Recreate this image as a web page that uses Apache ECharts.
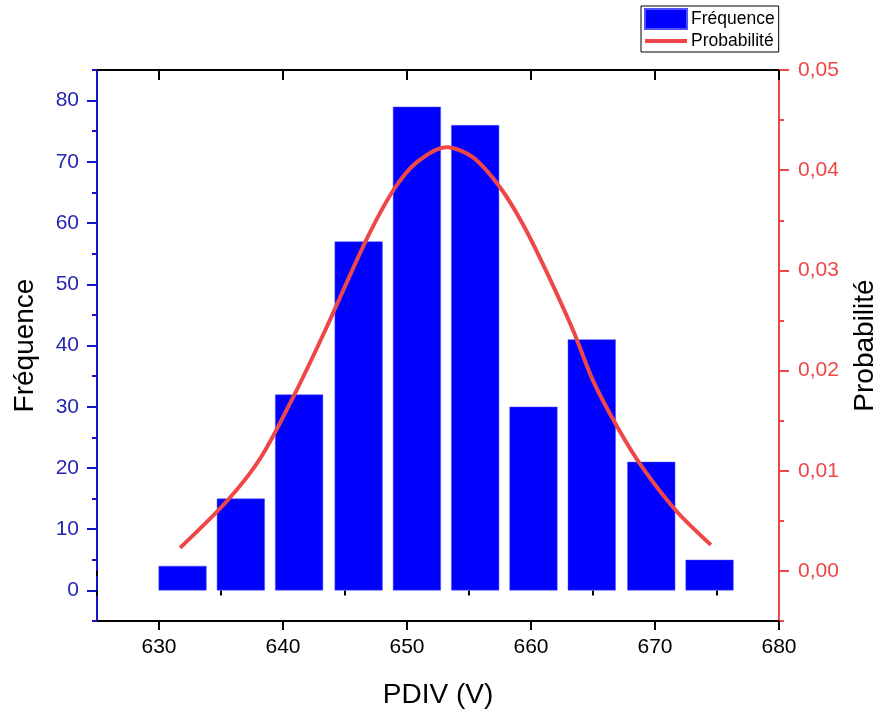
<!DOCTYPE html>
<html>
<head>
<meta charset="utf-8">
<script src="https://cdn.jsdelivr.net/npm/echarts@6/dist/echarts.min.js"></script>
<style>
html,body{margin:0;padding:0;background:#fff;overflow:hidden;}
#chart{width:878px;height:713px;}
</style>
</head>
<body>
<div id="chart"></div>
<script>
// ---- data ----
const binCenters = [631.9, 636.6, 641.3, 646.1, 650.8, 655.5, 660.2, 664.9, 669.7, 674.4];
const frequencies = [4, 15, 32, 57, 79, 76, 30, 41, 21, 5];
const curveX = [631.7, 635.5, 638.2, 640.8, 643.4, 646.7, 648.9, 650.8, 653.2, 655.3, 657.5, 659.3, 661.2, 663.4, 665.0, 667.0, 669.0, 671.7, 674.5];
const curveP = [0.0023, 0.0070, 0.0113, 0.0173, 0.0240, 0.0330, 0.0380, 0.0408, 0.0423, 0.0413, 0.0383, 0.0347, 0.0300, 0.0240, 0.0190, 0.0143, 0.0103, 0.0060, 0.0026];
const xMajorTicks = [630, 640, 650, 660, 670, 680];
const xMinorTicks = [625, 635, 645, 655, 665, 675];
const leftMajorTicks = [0, 10, 20, 30, 40, 50, 60, 70, 80];
const leftMinorTicks = [-5, 5, 15, 25, 35, 45, 55, 65, 75, 85];
const rightMajorTicks = [0, 0.01, 0.02, 0.03, 0.04, 0.05];
const rightMinorTicks = [-0.005, 0.005, 0.015, 0.025, 0.035, 0.045];
const seriesNames = ['Fréquence', 'Probabilité'];
const xName = 'PDIV (V)';

const FONT = 'Liberation Sans, Arial, sans-serif';
const BLUE_AXIS = '#1414c8';
const BLUE_LABEL = '#2626b0';
const RED = '#ef4747';
const X_MIN = 625, X_MAX = 680, L_MIN = -5, L_MAX = 85, R_MIN = -0.005, R_MAX = 0.05;

const chart = echarts.init(document.getElementById('chart'), null, {renderer: 'canvas'});

function tickAxis(extra) {
  return Object.assign({
    type: 'value', splitLine: {show: false},
    axisLine: {show: false}, axisLabel: {show: false}
  }, extra);
}

const option = {
  backgroundColor: '#ffffff',
  animation: false,
  textStyle: {fontFamily: FONT},
  grid: {left: 97, right: 99, top: 70, bottom: 92, containLabel: false, outerBoundsMode: 'none'},
  legend: {
    orient: 'vertical', left: 641, top: 6,
    padding: [2, 4, 2, 3], itemGap: 2,
    itemWidth: 42, itemHeight: 20,
    borderColor: '#000', borderWidth: 1, backgroundColor: '#fff',
    textStyle: {fontFamily: FONT, fontSize: 17.5, color: '#000', padding: [0, 0, 0, -1]},
    data: [
      {name: seriesNames[0], icon: 'rect'},
      {name: seriesNames[1], icon: 'path://M0,0 L42,0 L42,4 L0,4 Z'}
    ]
  },
  xAxis: [
    {
      type: 'value', min: X_MIN, max: X_MAX, position: 'bottom',
      name: xName, nameLocation: 'middle', nameGap: 60,
      nameTextStyle: {fontFamily: FONT, fontSize: 28, color: '#000'},
      axisLine: {show: true, onZero: false, lineStyle: {color: '#000', width: 2}},
      axisTick: {show: true, inside: false, length: 9, customValues: xMajorTicks, lineStyle: {color: '#000', width: 2}},
      axisLabel: {show: true, margin: 16, customValues: xMajorTicks, fontFamily: FONT, fontSize: 21, color: '#000'},
      splitLine: {show: false}
    },
    tickAxis({min: X_MIN, max: X_MAX, position: 'bottom',
      axisTick: {show: true, length: 5, customValues: xMinorTicks, lineStyle: {color: '#000', width: 2}}}),
    tickAxis({min: X_MIN, max: X_MAX, position: 'top',
      axisLine: {show: true, onZero: false, lineStyle: {color: '#000', width: 2}},
      axisTick: {show: true, inside: true, length: 10, customValues: xMajorTicks, lineStyle: {color: '#000', width: 2}}}),
    tickAxis({min: X_MIN, max: X_MAX, position: 'top',
      axisTick: {show: true, inside: true, length: 5, customValues: xMinorTicks, lineStyle: {color: '#000', width: 2}}})
  ],
  yAxis: [
    {
      type: 'value', min: L_MIN, max: L_MAX, position: 'left',
      name: seriesNames[0], nameLocation: 'middle', nameGap: 58, nameRotate: 90,
      nameTextStyle: {fontFamily: FONT, fontSize: 28, color: '#000'},
      axisLine: {show: true, onZero: false, lineStyle: {color: BLUE_AXIS, width: 2}},
      axisTick: {show: true, length: 10, customValues: leftMajorTicks, lineStyle: {color: BLUE_AXIS, width: 2}},
      axisLabel: {show: true, margin: 18, customValues: leftMajorTicks, fontFamily: FONT, fontSize: 21, color: BLUE_LABEL},
      splitLine: {show: false}
    },
    {
      type: 'value', min: R_MIN, max: R_MAX, position: 'right',
      name: seriesNames[1], nameLocation: 'middle', nameGap: 72, nameRotate: 90,
      nameTextStyle: {fontFamily: FONT, fontSize: 28, color: '#000'},
      axisLine: {show: true, onZero: false, lineStyle: {color: RED, width: 2}},
      axisTick: {show: true, length: 10, customValues: rightMajorTicks, lineStyle: {color: RED, width: 2}},
      axisLabel: {show: true, margin: 19, customValues: rightMajorTicks, fontFamily: FONT, fontSize: 21, color: RED,
        formatter: v => v.toFixed(2).replace('.', ',')},
      splitLine: {show: false}
    },
    tickAxis({min: L_MIN, max: L_MAX, position: 'left',
      axisTick: {show: true, length: 5, customValues: leftMinorTicks, lineStyle: {color: BLUE_AXIS, width: 2}}}),
    tickAxis({min: R_MIN, max: R_MAX, position: 'right',
      axisTick: {show: true, length: 5, customValues: rightMinorTicks, lineStyle: {color: RED, width: 2}}})
  ],
  series: [
    {
      name: seriesNames[0], type: 'bar', xAxisIndex: 0, yAxisIndex: 0,
      barWidth: 48, z: 2,
      itemStyle: {color: '#0000ff', borderColor: '#5050ff', borderWidth: 0.5},
      data: binCenters.map((c, i) => [c, frequencies[i]])
    },
    {
      name: seriesNames[1], type: 'line', xAxisIndex: 0, yAxisIndex: 1,
      smooth: 0.3, showSymbol: false, symbol: 'none', z: 3,
      lineStyle: {color: RED, width: 4},
      itemStyle: {color: RED},
      data: curveX.map((x, i) => [x, curveP[i]])
    }
  ]
};
chart.setOption(option);
</script>
</body>
</html>
